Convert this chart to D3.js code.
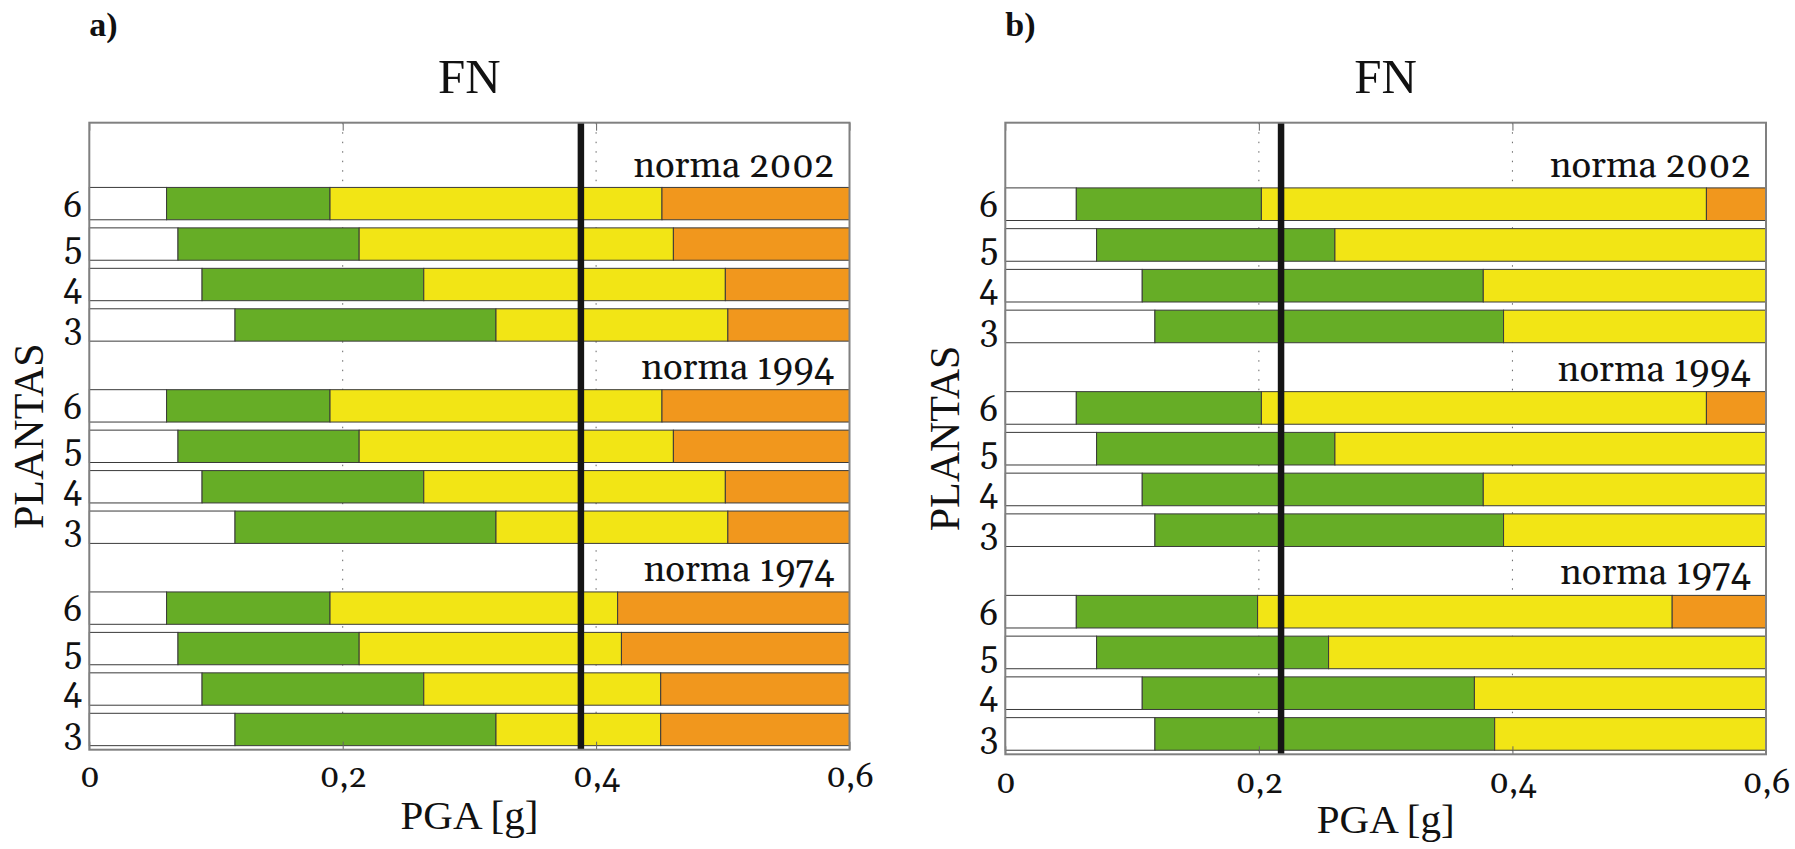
<!DOCTYPE html>
<html>
<head>
<meta charset="utf-8">
<script src="https://cdn.jsdelivr.net/npm/d3@7"></script>
<style>
  body { margin: 0; background: #fff; }
</style>
</head>
<body>
<div id="visual"></div>
<script>
// Floors shown in each block (top to bottom) and the code blocks
const plantas = ["6", "5", "4", "3"];
const normas = ["norma 2002", "norma 1994", "norma 1974"];
const xTicks = [0, 0.2, 0.4, 0.6];

// Panel a) limits in PGA [g] per floor (6,5,4,3): end of white, green, yellow
const aWhite = [
  [0.061, 0.070, 0.089, 0.115],
  [0.061, 0.070, 0.089, 0.115],
  [0.061, 0.070, 0.089, 0.115]
];
const aGreen = [
  [0.190, 0.213, 0.264, 0.321],
  [0.190, 0.213, 0.264, 0.321],
  [0.190, 0.213, 0.264, 0.321]
];
const aYellow = [
  [0.452, 0.461, 0.502, 0.504],
  [0.452, 0.461, 0.502, 0.504],
  [0.417, 0.420, 0.451, 0.451]
];
const aPGA = 0.388;

// Panel b) limits (null = yellow runs past the axis end)
const bWhite = [
  [0.056, 0.072, 0.108, 0.118],
  [0.056, 0.072, 0.108, 0.118],
  [0.056, 0.072, 0.108, 0.118]
];
const bGreen = [
  [0.202, 0.260, 0.377, 0.393],
  [0.202, 0.260, 0.377, 0.393],
  [0.199, 0.255, 0.370, 0.386]
];
const bYellow = [
  [0.553, null, null, null],
  [0.553, null, null, null],
  [0.526, null, null, null]
];
const bPGA = 0.2175;

const colors = ["#ffffff", "#66ad26", "#f2e515", "#f1971d"];
const times = "'Liberation Serif'";   // axis titles
const oldstyle = "'Gelasio'";         // numbers and block labels
const comma = d3.formatLocale({ decimal: ",", thousands: ".", grouping: [3], currency: ["", ""] }).format("~g");

const svg = d3.select("#visual")
    .append("svg")
    .attr("width", 1795)
    .attr("height", 849);

function label(sel, font, size) {
    return sel.attr("font-family", font)
        .attr("font-size", size)
        .attr("fill", "#111");
}

function drawPanel(opt) {
    const x = d3.scaleLinear().domain([0, 0.6]).range([opt.left, opt.right]);
    const y = d3.scaleLinear().domain([0.5, 16]).range([opt.bottom, opt.top]);
    const unit = y(0) - y(1);
    const xMax = x.domain()[1];

    const g = svg.append("g");

    // Build rows: position in y units and segment bounds
    const rows = [];
    normas.forEach((n, k) => {
        plantas.forEach((p, j) => {
            const lims = [0, opt.white[k][j], opt.green[k][j]];
            if (opt.yellow[k][j] !== null) lims.push(opt.yellow[k][j]);
            lims.push(xMax);
            rows.push({ pos: (2 - k) * 5 + (4 - j), label: p, lims: lims });
        });
    });

    // Dotted grid lines
    g.selectAll(".grid")
        .data([0.2, 0.4])
        .enter()
        .append("line")
        .attr("x1", d => x(d)).attr("x2", d => x(d))
        .attr("y1", opt.top).attr("y2", opt.bottom)
        .attr("stroke", "#666")
        .attr("stroke-width", 1)
        .attr("stroke-dasharray", "1.5,8");

    // Stacked bars
    rows.forEach(r => {
        const segs = d3.range(r.lims.length - 1).map(i => ({ x0: r.lims[i], x1: r.lims[i + 1], c: colors[i] }));
        g.selectAll(null)
            .data(segs)
            .enter()
            .append("rect")
            .attr("x", d => x(d.x0))
            .attr("width", d => x(d.x1) - x(d.x0))
            .attr("y", y(r.pos) - 0.4 * unit)
            .attr("height", 0.8 * unit)
            .attr("fill", d => d.c)
            .attr("stroke", "#3a3a3a")
            .attr("stroke-width", 1);
    });

    // Tick marks at top and bottom (inside)
    g.append("g")
        .attr("transform", "translate(0," + opt.bottom + ")")
        .call(d3.axisBottom(x).tickValues(xTicks).tickSize(-8).tickFormat(comma))
        .call(a => a.attr("font-family", oldstyle))
        .call(a => a.select(".domain").remove())
        .call(a => a.selectAll("line").attr("stroke", "#666"))
        .call(a => label(a.selectAll("text").attr("dy", null).attr("y", opt.tickY), oldstyle, 33));

    g.append("g")
        .attr("transform", "translate(0," + opt.top + ")")
        .call(d3.axisTop(x).tickValues(xTicks).tickSize(-8).tickFormat(""))
        .call(a => a.select(".domain").remove())
        .call(a => a.selectAll("line").attr("stroke", "#666"));

    // Y axis labels (floors)
    g.append("g")
        .attr("transform", "translate(" + opt.left + ",0)")
        .call(d3.axisLeft(y).tickValues(rows.map(r => r.pos)).tickSize(0).tickPadding(7)
            .tickFormat(v => rows.find(r => r.pos === v).label))
        .call(a => a.attr("font-family", oldstyle))
        .call(a => a.select(".domain").remove())
        .call(a => label(a.selectAll("text").attr("dy", "0.37em"), oldstyle, 34));

    // Block labels
    label(g.selectAll(".norma")
        .data(normas)
        .enter()
        .append("text")
        .attr("x", opt.right - 15)
        .attr("y", (d, k) => y((2 - k) * 5 + 5) + 13.5)
        .attr("text-anchor", "end")
        .text(d => d), oldstyle, 36.5);

    // PGA reference line
    g.append("line")
        .attr("x1", x(opt.pga)).attr("x2", x(opt.pga))
        .attr("y1", opt.top).attr("y2", opt.bottom)
        .attr("stroke", "#151515")
        .attr("stroke-width", 6.5);

    // Frame
    g.append("rect")
        .attr("x", opt.left).attr("y", opt.top)
        .attr("width", opt.right - opt.left)
        .attr("height", opt.bottom - opt.top)
        .attr("fill", "none")
        .attr("stroke", "#808080")
        .attr("stroke-width", 2);

    // Titles
    const cx = (opt.left + opt.right) / 2;
    label(g.append("text")
        .attr("x", opt.left).attr("y", 36)
        .attr("font-weight", "bold")
        .text(opt.tag), times, 34);

    label(g.append("text")
        .attr("x", cx).attr("y", 93)
        .attr("text-anchor", "middle")
        .text("FN"), times, 49);

    label(g.append("text")
        .attr("x", cx).attr("y", opt.bottom + 79)
        .attr("text-anchor", "middle")
        .text("PGA [g]"), times, 41);

    label(g.append("text")
        .attr("transform", "translate(" + (opt.left - 46) + "," + ((opt.top + opt.bottom) / 2) + ") rotate(-90)")
        .attr("text-anchor", "middle")
        .text("PLANTAS"), times, 42);
}

drawPanel({ tag: "a)", left: 89.3, right: 849.5, top: 122.7, bottom: 749.7, tickY: 37.5,
    white: aWhite, green: aGreen, yellow: aYellow, pga: aPGA });
drawPanel({ tag: "b)", left: 1005.3, right: 1766, top: 122.7, bottom: 754.3, tickY: 38.5,
    white: bWhite, green: bGreen, yellow: bYellow, pga: bPGA });
</script>
</body>
</html>
